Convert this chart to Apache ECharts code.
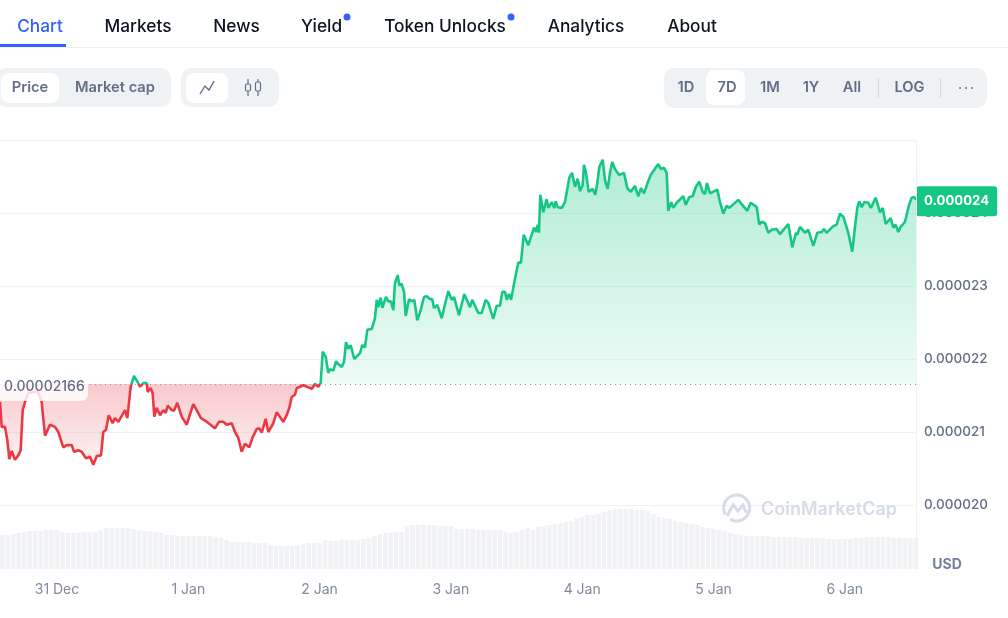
<!DOCTYPE html>
<html>
<head>
<meta charset="utf-8">
<style>html,body{margin:0;padding:0;background:#fff}#chart{width:1008px;height:618px}</style>
<script src="https://cdn.jsdelivr.net/npm/echarts@6/dist/echarts.min.js"></script>
</head>
<body>
<div id="chart"></div>
<script>
// [hours after 31 Dec 00:00, price in millionths of a USD]
const pricePoints = [
[-10.42,21.41],[-10.11,21.07],[-9.51,21.07],[-9.08,20.89],[-8.72,20.63],[-8.28,20.74],[-7.68,20.62],[-7.07,20.68],[-6.64,20.75],[-6.27,21.30],
[-5.85,21.41],[-5.25,21.53],[-4.39,21.55],[-3.47,21.55],[-2.80,21.41],[-2.19,20.95],[-1.28,21.10],[-0.37,21.07],[0.24,21.00],[1.15,20.79],
[1.77,20.82],[2.69,20.82],[3.11,20.73],[3.89,20.75],[4.51,20.73],[5.30,20.64],[6.03,20.66],[6.64,20.55],[7.26,20.67],[8.04,20.68],
[8.46,21.00],[8.96,21.03],[9.45,21.23],[10.18,21.12],[10.60,21.19],[11.21,21.14],[12.43,21.30],[12.85,21.19],[13.47,21.62],[14.07,21.77],
[14.86,21.67],[15.17,21.62],[15.77,21.67],[16.40,21.67],[16.58,21.55],[17.13,21.60],[17.49,21.53],[17.79,21.21],[18.22,21.33],[18.83,21.23],
[19.43,21.30],[19.87,21.26],[20.23,21.36],[20.97,21.30],[21.39,21.29],[21.99,21.40],[22.79,21.21],[23.71,21.10],[24.91,21.38],[25.54,21.30],
[26.32,21.19],[27.36,21.14],[28.88,21.05],[29.61,21.14],[30.40,21.14],[31.02,21.10],[31.93,21.12],[32.54,21.00],[33.14,20.92],[33.76,20.73],
[34.36,20.84],[35.15,20.79],[35.77,20.93],[36.50,21.04],[36.98,21.05],[37.42,20.99],[38.15,21.18],[38.62,21.00],[39.54,21.12],[40.16,21.27],
[41.37,21.14],[41.99,21.23],[42.46,21.33],[42.90,21.48],[43.50,21.51],[43.81,21.60],[45.02,21.64],[46.56,21.59],[47.16,21.66],[47.76,21.62],
[48.20,21.67],[48.57,22.10],[49.12,22.03],[49.59,21.81],[49.90,21.86],[50.51,21.84],[51.00,21.97],[51.42,21.93],[52.04,21.89],[52.46,21.96],
[52.83,22.23],[53.25,22.14],[53.68,22.19],[54.34,22.00],[55.39,22.08],[55.81,22.19],[56.30,22.16],[56.72,22.40],[57.52,22.41],[58.13,22.56],
[58.44,22.81],[58.73,22.71],[59.17,22.84],[59.46,22.70],[60.14,22.85],[60.56,22.79],[61.05,22.79],[61.47,22.67],[61.78,23.04],[62.28,23.15],
[62.57,23.01],[63.01,23.03],[63.43,22.92],[63.74,22.59],[64.34,22.82],[64.84,22.79],[65.31,22.81],[65.86,22.53],[66.48,22.67],[67.08,22.85],
[67.58,22.86],[68.18,22.82],[68.60,22.82],[68.91,22.70],[69.52,22.74],[70.32,22.56],[70.92,22.75],[71.53,22.93],[72.15,22.81],[72.57,22.85],
[73.48,22.60],[73.79,22.59],[74.45,22.89],[75.49,22.71],[75.91,22.81],[77.01,22.63],[77.63,22.63],[78.36,22.81],[78.84,22.77],[79.75,22.55],
[80.37,22.73],[80.98,22.73],[81.40,22.92],[81.89,22.92],[82.20,22.81],[82.62,22.89],[82.99,22.81],[83.72,23.10],[84.32,23.32],[84.81,23.32],
[85.31,23.70],[86.15,23.56],[87.19,23.80],[87.56,23.74],[87.87,23.84],[88.10,23.73],[88.34,24.25],[88.89,24.01],[89.51,24.19],[89.81,24.07],
[90.43,24.15],[90.90,24.07],[91.16,24.16],[91.52,24.08],[92.25,24.07],[92.86,24.15],[93.28,24.33],[93.64,24.48],[94.14,24.55],[94.69,24.36],
[95.18,24.47],[95.60,24.30],[96.09,24.38],[96.33,24.66],[96.70,24.55],[97.19,24.29],[97.92,24.33],[98.40,24.25],[98.76,24.41],[99.13,24.63],
[99.75,24.73],[100.17,24.45],[100.66,24.33],[101.08,24.55],[101.50,24.70],[102.00,24.60],[102.78,24.52],[103.64,24.55],[104.25,24.34],[104.87,24.29],
[105.65,24.37],[106.25,24.23],[106.75,24.34],[107.30,24.27],[107.90,24.40],[108.52,24.52],[109.91,24.67],[110.41,24.60],[110.95,24.62],[111.45,24.55],
[111.74,24.03],[112.29,24.15],[112.65,24.07],[113.27,24.14],[114.48,24.23],[114.92,24.11],[115.58,24.22],[116.20,24.23],[116.80,24.36],[117.41,24.43],
[118.03,24.29],[118.45,24.26],[118.81,24.41],[119.36,24.27],[120.70,24.32],[121.19,24.15],[121.80,23.99],[122.41,24.10],[122.89,24.07],[124.54,24.18],
[124.85,24.15],[126.18,24.03],[126.80,24.14],[127.90,24.08],[128.37,23.84],[128.81,23.88],[129.42,23.86],[130.02,23.73],[130.64,23.77],[131.55,23.78],
[132.16,23.71],[133.67,23.85],[134.41,23.53],[135.08,23.73],[135.32,23.70],[135.81,23.81],[136.73,23.73],[137.33,23.77],[138.25,23.55],[138.98,23.73],
[139.78,23.74],[140.20,23.78],[140.69,23.73],[141.90,23.82],[142.52,23.84],[143.12,23.99],[143.73,23.95],[144.64,23.73],[145.37,23.47],[145.87,23.81],
[146.29,24.07],[146.65,24.16],[147.09,24.08],[147.57,24.15],[148.30,24.14],[148.79,24.07],[149.65,24.21],[150.44,24.01],[150.93,24.07],[151.48,23.85],
[152.39,23.93],[152.87,23.80],[153.30,23.84],[153.78,23.74],[154.22,23.81],[155.01,23.88],[155.74,24.11],[156.23,24.21],[156.65,24.22],[157.02,24.18]
];
// hourly volume, arbitrary units, first bar at hour -10
const volumes = [
34,34,35,36,37,38,38,38,39,39,39,37,36,36,36,37,37,37,39,41,41,41,41,41,40,39,38,38,37,36,
34,34,33,33,33,33,33,33,33,32,31,29,27,27,27,27,26,26,26,24,23,23,23,23,24,25,26,26,26,29,
28,28,29,29,29,29,30,31,33,35,36,36,37,37,43,44,44,44,44,44,43,43,43,40,40,40,40,39,39,39,
39,39,37,36,37,39,41,39,42,43,44,45,46,47,48,51,52,54,54,55,57,59,60,60,60,60,59,59,58,55,
52,51,50,48,47,46,45,44,42,41,40,39,38,36,35,34,33,33,33,33,33,32,32,32,32,32,31,31,31,31,
31,30,30,30,30,30,31,31,32,32,32,32,32,31,31,31,31,31
];
const baselinePrice = 21.66;
const lastPrice = 24.16;
const dateLabels = ['31 Dec','1 Jan','2 Jan','3 Jan','4 Jan','5 Jan','6 Jan'];
const dateHours = [0,24,48,72,96,120,144];
const tabs = [['Chart',40,'#3861fb'],['Markets',138,'#0d1421'],['News',236.5,'#0d1421'],['Yield',321.5,'#0d1421'],['Token Unlocks',445,'#0d1421'],['Analytics',586,'#0d1421'],['About',692,'#0d1421']];
const leftButtons = [['Price',30],['Market cap',115]];
const rangeButtons = [['1D',686],['7D',727],['1M',770],['1Y',811],['All',852],['LOG',909.5]];

const GREEN='#16c784', RED='#ea3943', FONT='Inter, "Noto Sans", sans-serif', GREY='#616e85', MARK='#d6dce7';
const yMin=19, yMax=25, plotTop=140, plotBottom=578;
const baseStop=(yMax-baselinePrice)/(yMax-yMin);
const lowStop=(yMax-20.5)/(yMax-yMin);
const fmt=v=>(v/1e6).toFixed(6);

function globalGrad(stops){return {type:'linear',x:0,y:plotTop,x2:0,y2:plotBottom,global:true,colorStops:stops};}
function txt(text,x,y,size,weight,fill,align,z){return {type:'text',z:z||50,silent:true,style:{text,x,y,fill,font:weight+' '+size+'px '+FONT,align:align||'center',verticalAlign:'middle'}};}
function box(x,y,w,h,r,fill,z){return {type:'rect',z:z||40,silent:true,shape:{x,y,width:w,height:h,r},style:{fill}};}
function ln(x1,y1,x2,y2,stroke,w,z){return {type:'line',z:z||40,silent:true,shape:{x1,y1,x2,y2},style:{stroke,lineWidth:w||1}};}
const ringPoints=[];
for(let a=150;a<=480;a+=10){const t=a*Math.PI/180;ringPoints.push([736.7+13*Math.cos(t),508+13*Math.sin(t)]);}

const graphics=[
  ln(0,47.5,1008,47.5,'#eff2f5',1), box(0,44,66,3,0,'#3861fb',41),
  {type:'circle',z:41,silent:true,shape:{cx:347,cy:17,r:3.5},style:{fill:'#3861fb'}},
  {type:'circle',z:41,silent:true,shape:{cx:511,cy:17,r:3.5},style:{fill:'#3861fb'}},
  box(-4,68,175,39,10,'#eff2f5'), box(1,73,58,30,8,'#fff',41),
  box(181,68,98,39,10,'#eff2f5'), box(186,73,42,30,8,'#fff',41),
  {type:'polyline',z:45,silent:true,shape:{points:[[200,94],[205,86],[209,90],[214,81]]},style:{stroke:GREY,lineWidth:1.4,fill:null}},
  ln(248,79,248,96,GREY,1.2,45), box(245.5,84,5,7,1.5,'#eff2f5',46),
  ln(258,79,258,96,GREY,1.2,45), box(255.5,82,5,9,1.5,'#eff2f5',46),
  {type:'rect',z:47,silent:true,shape:{x:245.5,y:84,width:5,height:7,r:1.5},style:{stroke:GREY,fill:null,lineWidth:1.2}},
  {type:'rect',z:47,silent:true,shape:{x:255.5,y:82,width:5,height:9,r:1.5},style:{stroke:GREY,fill:null,lineWidth:1.2}},
  box(664,68,323,40,10,'#eff2f5'), box(706,70,39,35,8,'#fff',41),
  ln(878.5,78,878.5,98,'#cfd6e4',1,41), ln(940.5,78,940.5,98,'#cfd6e4',1,41),
  {type:'circle',z:45,silent:true,shape:{cx:960,cy:88,r:1},style:{fill:GREY}},
  {type:'circle',z:45,silent:true,shape:{cx:966,cy:88,r:1},style:{fill:GREY}},
  {type:'circle',z:45,silent:true,shape:{cx:972,cy:88,r:1},style:{fill:GREY}},
  ln(916.5,140,916.5,569,'#eff2f5',1,20),
  box(-6,375,94,26,7,'rgba(255,255,255,0.82)',30),
  txt((baselinePrice/1e6).toFixed(8),4,386.5,14,500,GREY,'left',31),
  txt('USD',947,564.5,14,700,'#75809a','center'),
  // watermark
  {type:'polyline',z:25,silent:true,shape:{points:ringPoints},style:{stroke:MARK,lineWidth:3,fill:null}},
  {type:'polyline',z:25,silent:true,shape:{points:[[727,516],[733,505],[738,511],[743,505],[745.5,511],[750,513]]},style:{stroke:MARK,lineWidth:3,fill:null}},
  txt('CoinMarketCap',761,509.5,18,600,MARK,'left',25)
];
tabs.forEach(t=>graphics.push(txt(t[0],t[1],27,17.3,500,t[2])));
leftButtons.forEach(t=>graphics.push(txt(t[0],t[1],87.5,14.7,600,GREY)));
rangeButtons.forEach(t=>graphics.push(txt(t[0],t[1],87.5,14.7,600,GREY)));

const xBase={type:'value',min:-10.42,max:157.02};
const chart=echarts.init(document.getElementById('chart'));
chart.setOption({
  animation:false,
  backgroundColor:'#fff',
  graphic:graphics,
  grid:[
    {left:0,width:916,top:plotTop,height:plotBottom-plotTop,outerBoundsMode:'none'},
    {left:0,width:916,top:505,height:64,outerBoundsMode:'none'}
  ],
  xAxis:[
    Object.assign({},xBase,{gridIndex:0,show:false}),
    Object.assign({},xBase,{gridIndex:1,axisLine:{show:false},axisTick:{show:false},splitLine:{show:false},
      axisLabel:{show:true,margin:14,color:'#808a9d',fontSize:14,fontFamily:FONT,hideOverlap:false,customValues:dateHours,
        formatter:v=>dateLabels[dateHours.indexOf(v)]||''}})
  ],
  yAxis:[
    {type:'value',gridIndex:0,position:'right',min:yMin,max:yMax,interval:1,axisLine:{show:false},axisTick:{show:false},
      splitLine:{show:true,showMinLine:false,lineStyle:{color:'#eff2f5',width:1}},
      axisLabel:{margin:8,color:GREY,fontSize:13.5,fontWeight:500,fontFamily:FONT,showMinLabel:false,showMaxLabel:false,formatter:v=>fmt(v)}},
    {type:'value',gridIndex:1,min:0,max:64,show:false}
  ],
  series:[
    {type:'bar',xAxisIndex:1,yAxisIndex:1,z:1,silent:true,barWidth:4.6,
      itemStyle:{color:'#f0f2f5'},data:volumes.map((v,i)=>[i-10,v])},
    {type:'line',xAxisIndex:0,yAxisIndex:0,z:5,showSymbol:false,silent:true,smooth:false,
      data:pricePoints,
      lineStyle:{width:2.6,color:globalGrad([{offset:0,color:GREEN},{offset:baseStop,color:GREEN},{offset:baseStop,color:RED},{offset:1,color:RED}])},
      areaStyle:{origin:baselinePrice,opacity:1,color:globalGrad([
        {offset:0,color:'rgba(22,199,132,0.36)'},{offset:baseStop,color:'rgba(22,199,132,0.07)'},
        {offset:baseStop,color:'rgba(234,57,67,0.27)'},{offset:lowStop,color:'rgba(234,57,67,0.06)'},{offset:1,color:'rgba(234,57,67,0.06)'}])},
      markLine:{silent:true,symbol:'none',animation:false,z:6,
        data:[
          [{coord:[-10.42,baselinePrice],lineStyle:{color:'#8f99a8',type:[1,4],width:1},label:{show:false}},{coord:[157.02,baselinePrice]}],
          [{coord:[156,lastPrice],lineStyle:{color:'rgba(0,0,0,0)'},label:{show:true,position:'end',distance:0,formatter:fmt(lastPrice),
            color:'#fff',fontWeight:700,fontSize:13.2,fontFamily:FONT,backgroundColor:GREEN,borderRadius:3,padding:[9,8,8,8]}},{coord:[157.02,lastPrice]}]
        ]}
    }
  ]
});
</script>
</body>
</html>
